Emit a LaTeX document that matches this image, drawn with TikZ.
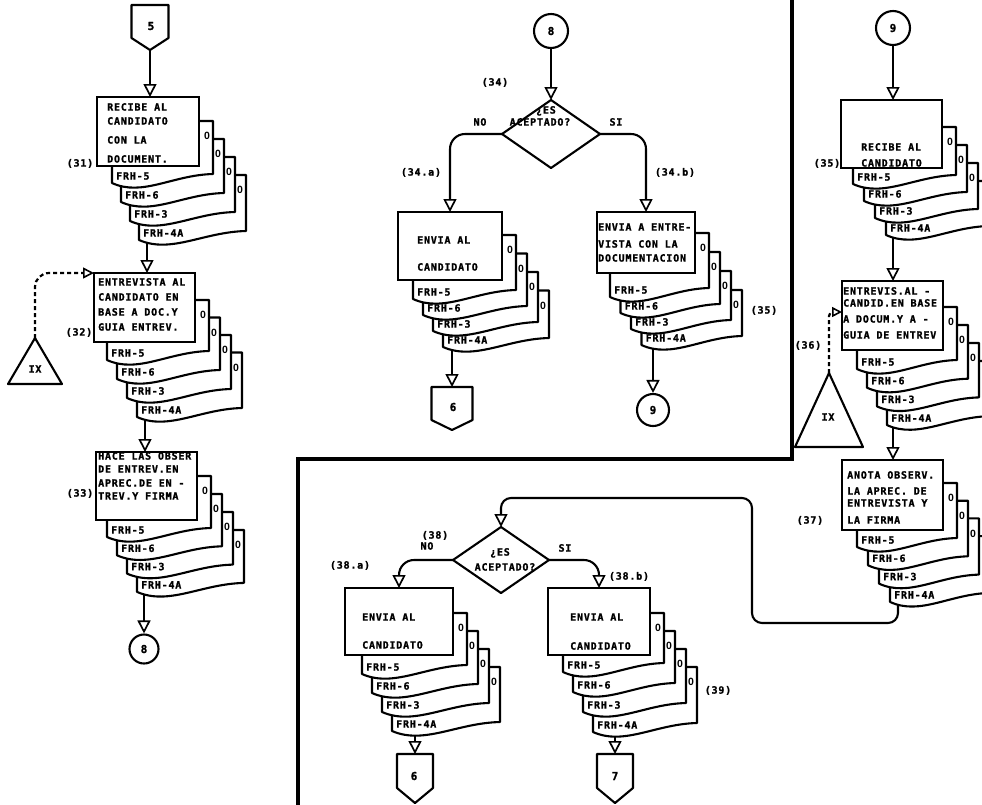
\documentclass[tikz,border=0pt]{standalone}
\usepackage{fontspec}
\newfontfamily\lf{DejaVu Sans Mono Bold}[LetterSpace=8, FakeBold=1.3]
\newfontfamily\zf{Liberation Sans Bold}
\usetikzlibrary{arrows.meta,shapes.geometric,calc}
\pgfdeclarelayer{back}
\pgfdeclarelayer{bg}
\pgfsetlayers{back,bg,main}
\tikzset{
  ln/.style={line width=2.1pt, line join=round, line cap=round},
  arr/.style={ln, -{Triangle[open,length=13pt,width=13pt,line width=1.7pt]}},
  dsh/.style={line width=2.2pt, dash pattern=on 4pt off 3pt},
  doc/.style={ln, fill=white},
  boxs/.style={draw, line width=2.1pt, fill=white, inner sep=0pt, outer sep=0pt},
  txt/.style={font=\lf\fontsize{10}{11}\selectfont, inner sep=0pt, text height=7.2pt, text depth=0pt},
  zer/.style={font=\zf\fontsize{10.5}{11}\selectfont, inner sep=0pt},
  num/.style={font=\lf\fontsize{11}{12}\selectfont, inner sep=0pt},
  border/.style={line width=3.8pt, line cap=rect},
}
\newcommand\bx[5]{%
  \pgfmathsetmacro\bw{#4-#2}\pgfmathsetmacro\bh{#5-#3}%
  \node[boxs, minimum width=\bw pt, minimum height=\bh pt] (#1) at ({(#2+#4)/2},{(#3+#5)/2}) {};}
\newcommand\tl[4]{\node[txt, anchor=west] (#1) at (#2,#3) {#4};}
\newcommand\docstk[9]{%
 \foreach \i/\lab in {3/FRH-4A,2/FRH-3,1/FRH-6,0/FRH-5}{%
  \pgfmathsetmacro\dL{#2+#8+#9*\i}%
  \pgfmathsetmacro\dR{#3+14+11*\i}%
  \pgfmathsetmacro\dT{#4+#5*\i}%
  \pgfmathsetmacro\dY{#6+#7*\i}%
  \pgfmathsetmacro\dB{\dY+7}%
  \pgfmathsetmacro\dRa{\dB-9}%
  \pgfmathsetmacro\dCa{\dL+0.6*(\dR-\dL)}%
  \pgfmathsetmacro\dCb{\dL+0.3*(\dR-\dL)}%
  \draw[doc] (\dL,\dT) -- (\dR,\dT) -- (\dR,\dRa) .. controls (\dCa,\dB-8) and (\dCb,\dB+14) .. (\dL,\dB) -- cycle;
  \node[txt, anchor=west] (#1l\i) at (\dL+4,\dY) {\lab};
  \ifdim\dR pt<985pt \node[zer] (#1o\i) at (\dR-6,\dT+15) {0};\fi
 }}
\newcommand\pent[6]{%
 \draw[ln, fill=white] (#2-#6,#3) -- (#2+#6,#3) -- (#2+#6,#4) -- (#2,#5) -- (#2-#6,#4) -- cycle;
 \coordinate (#1top) at (#2,#3); \coordinate (#1tip) at (#2,#5);}
\begin{document}
\begin{tikzpicture}[x=1pt,y=-1pt]
\useasboundingbox (0,0) rectangle (982,804);
\begin{pgfonlayer}{back}
\fill[white] (0,0) rectangle (982,804);
\end{pgfonlayer}

% ---------- borders
\draw[border] (792,0) -- (792,459) -- (298,459) -- (298,804);

% ---------- left column
\pent{p5}{150}{5}{38}{50}{18.5}
\node[num] (p5n) at (151,26) {5};

\docstk{d1}{97}{199}{121}{18}{176}{19}{15}{9}
\bx{b1}{97}{97}{199}{166}
\tl{t1a}{107}{107}{RECIBE AL}
\tl{t1b}{107}{121}{CANDIDATO}
\tl{t1c}{107}{140}{CON LA}
\tl{t1d}{107}{159}{DOCUMENT.}
\node[txt] (l31) at (80,163) {(31)};

\docstk{d2}{94}{195}{300}{17.5}{353}{19}{13}{10}
\bx{b2}{94}{273}{195}{342}
\tl{t2a}{98}{282}{ENTREVISTA AL}
\tl{t2b}{98}{297}{CANDIDATO EN}
\tl{t2c}{98}{312}{BASE A DOC.Y}
\tl{t2d}{98}{327}{GUIA ENTREV.}
\node[txt] (l32) at (79,332) {(32)};

\draw[ln, fill=white] (35,338) -- (62,384) -- (8,384) -- cycle;
\coordinate (ixl) at (35,338);
\node[txt] (ixlt) at (35,369) {IX};

\docstk{d3}{96}{197}{476}{18}{530}{18.3}{11}{10}
\bx{b3}{96}{452}{197}{520}
\tl{t3a}{98}{456}{HACE LAS OBSER}
\tl{t3b}{98}{469}{DE ENTREV.EN}
\tl{t3c}{98}{483}{APREC.DE EN -}
\tl{t3d}{98}{496}{TREV.Y FIRMA}
\node[txt] (l33) at (80,493) {(33)};

\node[draw, ln, circle, minimum size=29pt, inner sep=0pt, fill=white, num] (c8b) at (144,649) {8};

% ---------- upper middle
\node[draw, ln, circle, minimum size=34pt, inner sep=0pt, fill=white, num] (c8a) at (551,31) {8};
\node[txt] (l34) at (495,82) {(34)};
\node[draw, ln, diamond, aspect=1.44, minimum width=98pt, minimum height=68pt, inner sep=0pt, outer sep=0pt, fill=white] (d34) at (551,134) {};
\node[txt] (q34a) at (546,110) {¿ES};
\node[txt] (q34b) at (540,122) {ACEPTADO?};
\node[txt] (no34) at (480,122) {NO};
\node[txt] (si34) at (616,122) {SI};
\node[txt] (l34a) at (421,172) {(34.a)};
\node[txt] (l34b) at (675,172) {(34.b)};

\docstk{d4}{398}{502}{235}{18.5}{292}{16}{15}{10}
\bx{b34a}{398}{212}{502}{280}
\tl{t4a}{417}{240}{ENVIA AL}
\tl{t4b}{417}{267}{CANDIDATO}

\docstk{d5}{597}{695}{233}{19}{290}{16}{13}{10.5}
\bx{b34b}{597}{212}{695}{273}
\tl{t5a}{598}{227}{ENVIA A ENTRE-}
\tl{t5b}{598}{244}{VISTA CON LA}
\tl{t5c}{598}{258}{DOCUMENTACION}
\node[txt] (l35a) at (764,310) {(35)};

\pent{p6a}{452}{387}{420}{430}{20.5}
\node[num] (p6an) at (453,407) {6};
\node[draw, ln, circle, minimum size=32pt, inner sep=0pt, fill=white, num] (c9b) at (653,410) {9};

% ---------- right column
\node[draw, ln, circle, minimum size=34pt, inner sep=0pt, fill=white, num] (c9a) at (893,28) {9};
\docstk{d6}{841}{942}{127}{18}{177}{17}{12}{11}
\bx{b35}{841}{100}{942}{168}
\tl{t6a}{861}{147}{RECIBE AL}
\tl{t6b}{861}{163}{CANDIDATO}
\node[txt] (l35b) at (827,163) {(35)};

\docstk{d7}{842}{943}{307}{18}{362}{18.7}{15}{10}
\bx{b36}{842}{281}{943}{350}
\tl{t7a}{843}{291}{ENTREVIS.AL -}
\tl{t7b}{843}{303}{CANDID.EN BASE}
\tl{t7c}{843}{319}{A DOCUM.Y A -}
\tl{t7d}{843}{335}{GUIA DE ENTREV}
\node[txt] (l36) at (808,345) {(36)};
\draw[ln, fill=white] (829,373) -- (863,447) -- (795,447) -- cycle;
\coordinate (ixr) at (829,373);
\node[txt] (ixrt) at (828,417) {IX};

\docstk{d8}{842}{943}{483}{17.7}{540}{18.3}{15}{11}
\bx{b37}{842}{460}{943}{530}
\tl{t8a}{847}{475}{ANOTA OBSERV.}
\tl{t8b}{847}{491}{LA APREC. DE}
\tl{t8c}{847}{503}{ENTREVISTA Y}
\tl{t8d}{847}{520}{LA FIRMA}
\node[txt] (l37) at (810,520) {(37)};

% ---------- lower middle
\node[draw, ln, diamond, aspect=1.45, minimum width=96pt, minimum height=66pt, inner sep=0pt, outer sep=0pt, fill=white] (d38) at (501,560) {};
\node[txt] (q38a) at (500,552) {¿ES};
\node[txt] (q38b) at (505,567) {ACEPTADO?};
\node[txt] (l38) at (435,535) {(38)};
\node[txt] (no38) at (427,546) {NO};
\node[txt] (si38) at (565,548) {SI};
\node[txt] (l38a) at (350,565) {(38.a)};
\node[txt] (l38b) at (629,576) {(38.b)};

\docstk{d9}{345}{453}{613}{18}{667}{19}{17}{10}
\bx{b38a}{345}{588}{453}{655}
\tl{t9a}{362}{617}{ENVIA AL}
\tl{t9b}{362}{645}{CANDIDATO}

\docstk{d10}{548}{650}{613}{18}{665}{20}{15}{10}
\bx{b38b}{548}{588}{650}{655}
\tl{t10a}{570}{617}{ENVIA AL}
\tl{t10b}{570}{646}{CANDIDATO}
\node[txt] (l39) at (718,690) {(39)};

\pent{p6b}{415}{754}{788}{803}{18}
\node[num] (p6bn) at (414,776) {6};
\pent{p7}{615}{754}{788}{803}{18}
\node[num] (p7n) at (615,776) {7};

% ---------- connectors
\coordinate (o1) at (147,166);
\coordinate (o2) at (145,342);
\coordinate (o35) at (893,168);
\coordinate (o36) at (893,350);
\coordinate (o37) at (898,530);
\begin{pgfonlayer}{bg}
\draw[arr] (p5tip) -- (p5tip |- b1.north);
\draw[arr] (o1) -- (o1 |- b2.north);
\draw[arr] (o2) -- (o2 |- b3.north);
\draw[arr] (c8b |- b3.south) -- (c8b);
\draw[dsh, rounded corners=14pt] (ixl) |- ([xshift=-11pt]b2.north west);
\draw[line width=1.6pt, -{Triangle[open,length=11pt,width=11pt,line width=1.6pt]}] ([xshift=-12pt]b2.north west) -- (b2.north west);

\draw[arr] (c8a) -- (d34.north);
\draw[arr, rounded corners=15pt] (d34.west) -| (b34a.north);
\draw[arr, rounded corners=15pt] (d34.east) -| (b34b.north);
\draw[arr] (p6atop |- b34a.south) -- (p6atop);
\draw[arr] (c9b |- b34b.south) -- (c9b);

\draw[arr] (c9a) -- (c9a |- b35.north);
\draw[arr] (o35) -- (o35 |- b36.north);
\draw[arr] (o36) -- (o36 |- b37.north);
\draw[dsh, rounded corners=4pt] (ixr) |- ([yshift=3.5pt,xshift=-9pt]b36.west);
\draw[line width=1.6pt, -{Triangle[open,length=10pt,width=10pt,line width=1.6pt]}] ([yshift=3.5pt,xshift=-10pt]b36.west) -- ([yshift=3.5pt]b36.west);

\draw[arr, rounded corners=10pt] (o37) -- (898,623) -- (752,623) -- (752,498) -- (501,498) -- (d38.north);
\draw[arr, rounded corners=15pt] (d38.west) -| (b38a.north);
\draw[arr, rounded corners=15pt] (d38.east) -| (b38b.north);
\draw[arr] (p6btop |- b38a.south) -- (p6btop);
\draw[arr] (p7top |- b38b.south) -- (p7top);
\end{pgfonlayer}
\end{tikzpicture}
\end{document}
